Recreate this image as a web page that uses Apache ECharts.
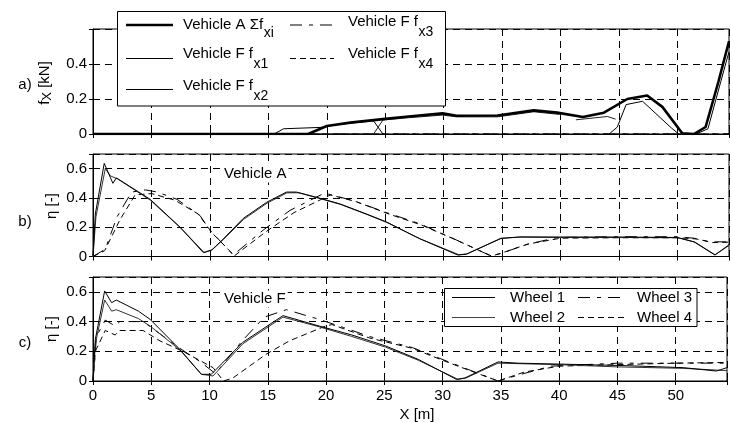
<!DOCTYPE html>
<html><head><meta charset="utf-8">
<script src="https://cdn.jsdelivr.net/npm/echarts@6/dist/echarts.min.js"></script>
<style>html,body{margin:0;padding:0;background:#fff}#c{width:730px;height:423px}</style>
</head><body><div id="c"></div>
<script>
// ---- data ----
const xTicks = [0,5,10,15,20,25,30,35,40,45,50];
const xMax = 54.4;
// panel a) f_X [kN]
const aSum = [[0,0],[18.4,0],[20,0.046],[22,0.065],[24.8,0.085],[27,0.1],[29.9,0.118],[31.1,0.104],[34.6,0.106],[37.7,0.135],[39.7,0.122],[41.9,0.097],[43.7,0.122],[45.7,0.2],[47.4,0.22],[48.7,0.155],[50.4,0.004],[51.4,0],[52.4,0.04],[53.5,0.3],[54.4,0.53]];
const aFx1 = [[0,0],[15.5,0],[16.3,0.03],[19.6,0.038],[21,0.055],[24,0.075],[24.8,0.0],[25,null],[44.15,0],[44.85,0.04],[45.6,0.168],[47.0,0.187],[49.5,0.033],[50.1,0],[51.6,0],[52.6,0.03],[53.7,0.3],[54.4,0.47]];
const aFx2 = [[0,0],[24,0],[24.8,0.08],[27,0.093],[29.9,0.108],[31.1,0.098],[34.6,0.098],[37.7,0.127],[39.9,0.112],[40,null],[41.3,0.081],[44.0,0.1],[44.7,0.085]];
const aFx3 = [[0,0],[21,0],[54.4,0]];
const aFx4 = [[0,0],[54.4,0]];
// panel b) Vehicle A, eta [-]
const bW1 = [[0,0],[0.2,0.29],[0.96,0.636],[1.7,0.5],[2.0,0.537],[4.9,0.39],[7.45,0.2],[9.44,0.026],[10.15,0.044],[11.15,0.12],[12.85,0.26],[14.85,0.37],[16.55,0.44],[17.4,0.44],[19.1,0.405],[21.1,0.36],[23.4,0.29],[25.1,0.236],[27.9,0.123],[31.2,0.01],[31.9,0.015],[34.9,0.123],[36.5,0.134],[40,0.133],[45,0.133],[50,0.13],[51.4,0.1],[53.2,0.01],[54.4,0.08]];
const bW2 = [[0,0],[0.25,0.27],[1.05,0.6],[1.5,0.55],[2.1,0.53],[4.9,0.385],[7.5,0.195],[9.5,0.028],[10.2,0.046],[11.2,0.12],[12.9,0.255],[14.9,0.365],[16.6,0.435],[17.6,0.435],[19.2,0.4],[21.2,0.355],[23.5,0.285],[25.2,0.23],[28,0.12],[31.3,0.012],[32,0.018],[34.9,0.125],[36.6,0.132],[40,0.13],[45,0.13],[50,0.128],[51.5,0.098],[53.2,0.012],[54.4,0.075]];
const bW3 = [[0,0],[1.05,0.05],[2.05,0.27],[3.3,0.44],[4.5,0.455],[5.5,0.44],[7.2,0.39],[9.15,0.28],[10.0,0.18],[12.0,0.01],[14.55,0.18],[16.85,0.315],[19.8,0.433],[22.2,0.383],[25.1,0.3],[27.9,0.225],[30.8,0.123],[34.0,0.005],[34.9,0.02],[36.9,0.078],[39.7,0.13],[45,0.135],[50,0.135],[51.4,0.125],[52.8,0.1],[54.4,0.1]];
const bW4 = [[0,0],[1.0,0.04],[2.3,0.25],[3.6,0.42],[5.0,0.43],[7.0,0.385],[9.0,0.29],[10.2,0.16],[12.1,0.005],[14.8,0.17],[17.2,0.3],[20.3,0.42],[22.5,0.375],[25.3,0.29],[28.1,0.215],[31.0,0.115],[34.1,0.003],[35.0,0.025],[37.2,0.085],[40,0.125],[45,0.128],[50,0.128],[51.6,0.12],[53,0.095],[54.4,0.098]];
// panel c) Vehicle F, eta [-]
const cW1 = [[0,0],[0.2,0.28],[1.0,0.606],[1.6,0.527],[2.0,0.545],[3.9,0.47],[4.9,0.415],[7.45,0.213],[9.3,0.045],[10.15,0.045],[12.85,0.26],[16.3,0.44],[19.4,0.37],[22.2,0.31],[25.1,0.236],[27.9,0.146],[31.2,0.01],[31.9,0.02],[34.75,0.128],[36.5,0.12],[45,0.105],[50.65,0.09],[53.5,0.067],[54.4,0.09]];
const cW2 = [[0,0],[0.2,0.25],[1.0,0.545],[1.6,0.47],[2.0,0.48],[3.9,0.42],[4.9,0.37],[7.45,0.21],[9.3,0.045],[10.3,0.034],[12.85,0.25],[16.3,0.43],[19.4,0.365],[22.2,0.3],[25.1,0.228],[27.9,0.14],[31.3,0.012],[32,0.02],[34.75,0.12],[40,0.11],[45,0.095],[50.65,0.085],[54.4,0.07]];
const cW3 = [[0,0],[0.3,0.3],[1.05,0.41],[1.9,0.37],[2.3,0.4],[4.3,0.4],[5.0,0.36],[7.45,0.22],[9.2,0.13],[10.5,0.05],[12.8,0.27],[14.7,0.43],[16.6,0.48],[19.4,0.415],[21.5,0.36],[23.7,0.3],[27.4,0.225],[30.8,0.12],[34.75,0.0],[36.5,0.04],[39.3,0.1],[45,0.12],[54.4,0.12]];
const cW4 = [[0,0],[0.2,0.2],[1.05,0.34],[1.9,0.31],[2.3,0.34],[4.3,0.34],[5.75,0.27],[7.7,0.2],[10.3,0.09],[11.2,0.0],[12,0.02],[14.85,0.18],[16.85,0.27],[19.95,0.37],[20.5,0.38],[23.7,0.29],[27.4,0.22],[30.8,0.115],[34.75,0.0],[37,0.06],[40,0.1],[45,0.11],[50,0.12],[54.4,0.125]];
const aYTicks = [0,0.2,0.4];
const etaYTicks = [0,0.2,0.4,0.6];

// ---- chart ----
const FONT = '"Liberation Sans", Arial, Helvetica, sans-serif';
const FS = 15;
const ctx2 = document.createElement('canvas').getContext('2d');
function tw(t, fs){ ctx2.font = fs + 'px ' + FONT; return ctx2.measureText(t).width; }

const grids = [
  {left:93, top:29, right:1, height:105},
  {left:93, top:154, right:1, height:102.5},
  {left:93, top:277, right:1, height:104}
].map(g => Object.assign(g, {show:true, borderColor:'#000', borderWidth:1, backgroundColor:'transparent', containLabel:false}));

const DASH_GRID = [7,5];
const xAxes = [], yAxes = [];
const yMaxes = [0.6, 0.7, 0.7];
const yLabelSets = [aYTicks, etaYTicks, etaYTicks];
for (let i = 0; i < 3; i++) {
  xAxes.push({
    type:'value', gridIndex:i, min:0, max:xMax, interval:5, position:'bottom',
    axisLine:{show:true, lineStyle:{color:'#000', width:1}},
    axisTick:{show:true, inside:true, length:4, lineStyle:{color:'#000'}},
    axisLabel:{show:i===2, color:'#000', fontFamily:FONT, fontSize:FS, margin:7,
      formatter: v => xTicks.includes(v) ? String(v) : ''},
    splitLine:{show:true, lineStyle:{color:'#000', type:DASH_GRID, width:1}}
  });
  xAxes.push({
    type:'value', gridIndex:i, min:0, max:xMax, interval:5, position:'top',
    axisLine:{show:false}, axisLabel:{show:false}, splitLine:{show:false},
    axisTick:{show:true, inside:true, length:4, lineStyle:{color:'#000'}}
  });
  const labs = yLabelSets[i];
  yAxes.push({
    type:'value', gridIndex:i, min:0, max:yMaxes[i], interval:0.2, position:'left',
    axisLine:{show:true, lineStyle:{color:'#000', width:1}},
    axisTick:{show:true, inside:true, length:4, lineStyle:{color:'#000'}},
    axisLabel:{color:'#000', fontFamily:FONT, fontSize:FS, margin:6,
      formatter: v => { const r = Math.round(v*10)/10; return labs.includes(r) && Math.abs(v-r)<1e-6 ? String(r) : ''; }},
    splitLine:{show:true, lineStyle:{color:'#000', type:DASH_GRID, width:1}}
  });
  yAxes.push({
    type:'value', gridIndex:i, min:0, max:yMaxes[i], interval:0.2, position:'right',
    axisLine:{show:false}, axisLabel:{show:false}, splitLine:{show:false},
    axisTick:{show:true, inside:true, length:4, lineStyle:{color:'#000'}}
  });
}

const SOLID = 'solid', DASHDOT = [12,7,4,7], DASHED = [6,4];
function ser(data, gi, width, type, color){
  return {type:'line', xAxisIndex:gi*2, yAxisIndex:gi*2, data:data, showSymbol:false, symbol:'none',
    connectNulls:false, animation:false, silent:true,
    lineStyle:{color:color||'#000', width:width, type:type}, z:3};
}
const series = [
  ser(aFx4,0,1,DASHED), ser(aFx3,0,1,DASHDOT), ser(aFx2,0,1,SOLID,'#222'), ser(aFx1,0,1,SOLID), ser(aSum,0,2.6,SOLID),
  ser(bW4,1,1,DASHED), ser(bW3,1,1,DASHDOT), ser(bW2,1,1,SOLID,'#333'), ser(bW1,1,1,SOLID),
  ser(cW4,2,1,DASHED), ser(cW3,2,1,DASHDOT), ser(cW2,2,1,SOLID,'#333'), ser(cW1,2,1,SOLID)
];

const T = (x,y,text,extra) => Object.assign({type:'text', x:x, y:y, z:100,
  style:Object.assign({text:text, fill:'#000', font: FS+'px '+FONT, textAlign:'left', textVerticalAlign:'middle'}, (extra&&extra.style)||{})},
  extra && extra.rot!==undefined ? {rotation:extra.rot} : {});
const L = (x1,y1,x2,y2,w,dash,color) => ({type:'line', z:100, shape:{x1:x1,y1:y1,x2:x2,y2:y2},
  style:{stroke:color||'#000', lineWidth:w, lineDash:dash==='solid'?null:dash}});

const g = [];
// panel letters
g.push(T(25,85,'a)',{style:{textAlign:'center'}}));
g.push(T(25,222,'b)',{style:{textAlign:'center'}}));
g.push(T(25,343,'c)',{style:{textAlign:'center'}}));
// y titles (rotated)
g.push({type:'text', x:45, y:83, rotation:Math.PI/2, z:100,
  style:{text:'{m|f}{s|X}{m| [kN]}', textAlign:'center', textVerticalAlign:'middle',
    rich:{m:{font:FS+'px '+FONT, fill:'#000'}, s:{font:'13px '+FONT, fill:'#000', padding:[4,0,0,0]}}}});
g.push({type:'text', x:52, y:206, rotation:Math.PI/2, z:100,
  style:{text:'η [-]', fill:'#000', font:FS+'px '+FONT, textAlign:'center', textVerticalAlign:'middle'}});
g.push({type:'text', x:52, y:329, rotation:Math.PI/2, z:100,
  style:{text:'η [-]', fill:'#000', font:FS+'px '+FONT, textAlign:'center', textVerticalAlign:'middle'}});
// x title
g.push(T(417,415,'X [m]',{style:{textAlign:'center'}}));
// panel annotations
g.push(T(222,174,'Vehicle A',{style:{backgroundColor:'#fff', padding:[1,2]}}));
g.push(T(222,299,'Vehicle F',{style:{backgroundColor:'#fff', padding:[1,2]}}));

// legend a
g.push({type:'rect', z:90, shape:{x:117.5,y:11.5,width:328,height:94.5}, style:{fill:'#fff', stroke:'#000', lineWidth:1}});
const legA = [
  {x1:126,x2:173,ly:25,w:2.6,dash:'solid',tx:183,ty:25,main:'Vehicle A Σf',sub:'xi',sy:33},
  {x1:126,x2:173,ly:58.5,w:1,dash:'solid',tx:183,ty:54,main:'Vehicle F f',sub:'x1',sy:64},
  {x1:126,x2:173,ly:89.5,w:1,dash:'solid',tx:183,ty:86,main:'Vehicle F f',sub:'x2',sy:96},
  {x1:290,x2:334,ly:25,w:1,dash:DASHDOT,tx:348,ty:22,main:'Vehicle F f',sub:'x3',sy:32},
  {x1:290,x2:334,ly:58.5,w:1,dash:DASHED,tx:348,ty:54,main:'Vehicle F f',sub:'x4',sy:64}
];
legA.forEach(e => {
  g.push(L(e.x1,e.ly,e.x2,e.ly,e.w,e.dash));
  g.push(T(e.tx,e.ty,e.main));
  g.push(T(e.tx+tw(e.main,FS)+0.5,e.sy,e.sub,{style:{font:'14px '+FONT}}));
});
// legend c
g.push({type:'rect', z:90, shape:{x:444.5,y:288.5,width:252.5,height:38}, style:{fill:'#fff', stroke:'#000', lineWidth:1}});
const legC = [
  {x1:452,x2:495,y:297.5,dash:'solid',c:'#000',tx:510,t:'Wheel 1'},
  {x1:452,x2:495,y:317.5,dash:'solid',c:'#444',tx:510,t:'Wheel 2'},
  {x1:578,x2:625,y:297.5,dash:DASHDOT,c:'#000',tx:637,t:'Wheel 3'},
  {x1:578,x2:625,y:317.5,dash:DASHED,c:'#000',tx:637,t:'Wheel 4'}
];
legC.forEach(e => { g.push(L(e.x1,e.y,e.x2,e.y,1,e.dash,e.c)); g.push(T(e.tx,e.y,e.t)); });

const chart = echarts.init(document.getElementById('c'), null, {renderer:'canvas'});
chart.setOption({
  animation:false, backgroundColor:'#fff',
  grid:grids, xAxis:xAxes, yAxis:yAxes, series:series, graphic:g
});
</script></body></html>
